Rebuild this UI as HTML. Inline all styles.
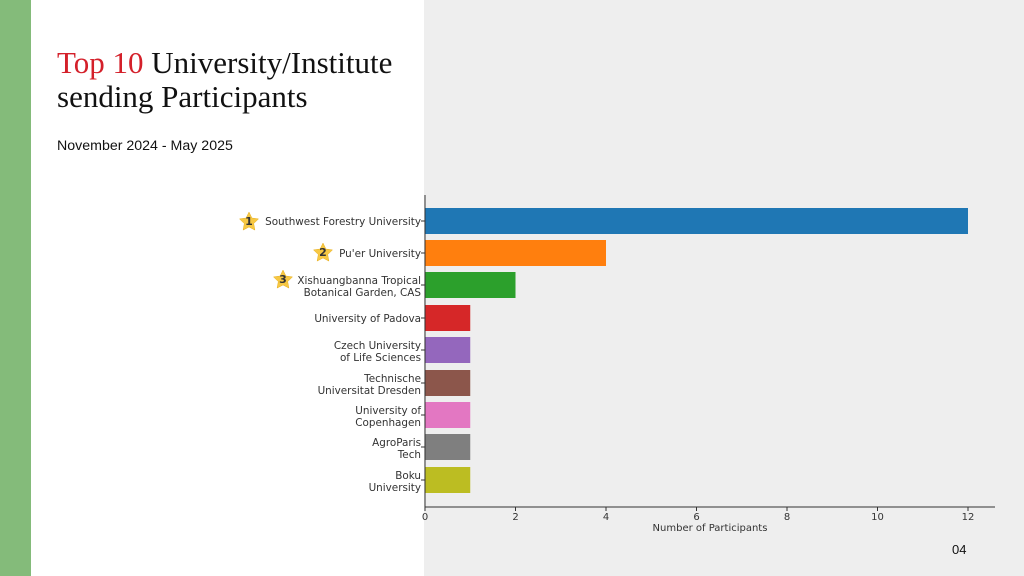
<!DOCTYPE html>
<html><head><meta charset="utf-8"><style>
html,body{margin:0;padding:0;width:1024px;height:576px;overflow:hidden;background:#fff}
</style></head><body>
<svg width="1024" height="576" xmlns="http://www.w3.org/2000/svg" style="display:block">
<rect x="0" y="0" width="1024" height="576" fill="#fff"/>
<rect x="0" y="0" width="31" height="576" fill="#84bb7a"/>
<rect x="424" y="0" width="600" height="576" fill="#eeeeee"/>
<g font-family="Liberation Serif, serif" font-size="31" fill="#111">
<text x="57" y="73"><tspan fill="#d4202a">Top 10</tspan> University/Institute</text>
<text x="57" y="107">sending Participants</text>
</g>
<text x="57" y="150" font-family="Liberation Sans, sans-serif" font-size="14.2" fill="#111">November 2024 - May 2025</text>
<text x="952" y="554" font-family="Liberation Sans, sans-serif" font-size="13" fill="#111">04</text>
<g>
<rect x="425" y="208" width="543" height="26" fill="#1f77b4"/>
<rect x="425" y="240" width="181" height="26" fill="#ff7f0e"/>
<rect x="425" y="272" width="90.5" height="26" fill="#2ca02c"/>
<rect x="425" y="305" width="45.25" height="26" fill="#d62728"/>
<rect x="425" y="337" width="45.25" height="26" fill="#9467bd"/>
<rect x="425" y="370" width="45.25" height="26" fill="#8c564b"/>
<rect x="425" y="402" width="45.25" height="26" fill="#e377c2"/>
<rect x="425" y="434" width="45.25" height="26" fill="#7f7f7f"/>
<rect x="425" y="467" width="45.25" height="26" fill="#bcbd22"/>
</g>
<g stroke="#333" stroke-width="1">
<line x1="425" y1="195" x2="425" y2="507"/>
<line x1="425" y1="507" x2="995" y2="507"/>
<line x1="425" y1="507" x2="425" y2="511"/><line x1="515.5" y1="507" x2="515.5" y2="511"/>
<line x1="606" y1="507" x2="606" y2="511"/><line x1="696.5" y1="507" x2="696.5" y2="511"/>
<line x1="787" y1="507" x2="787" y2="511"/><line x1="877.5" y1="507" x2="877.5" y2="511"/>
<line x1="968" y1="507" x2="968" y2="511"/>
<line x1="421" y1="221" x2="425" y2="221"/><line x1="421" y1="253" x2="425" y2="253"/>
<line x1="421" y1="285" x2="425" y2="285"/><line x1="421" y1="318" x2="425" y2="318"/>
<line x1="421" y1="350" x2="425" y2="350"/><line x1="421" y1="383" x2="425" y2="383"/>
<line x1="421" y1="415" x2="425" y2="415"/><line x1="421" y1="447" x2="425" y2="447"/>
<line x1="421" y1="480" x2="425" y2="480"/>
</g>
<g font-family="DejaVu Sans, sans-serif" font-size="10" fill="#333" text-anchor="middle">
<text x="425" y="520">0</text><text x="515.5" y="520">2</text><text x="606" y="520">4</text>
<text x="696.5" y="520">6</text><text x="787" y="520">8</text><text x="877.5" y="520">10</text>
<text x="968" y="520">12</text>
<text x="710" y="531">Number of Participants</text>
</g>
<g font-family="DejaVu Sans, sans-serif" font-size="10.4" fill="#333" text-anchor="end">
<text x="421" y="225">Southwest Forestry University</text>
<text x="421" y="257">Pu'er University</text>
<text x="421" y="284">Xishuangbanna Tropical</text><text x="421" y="296">Botanical Garden, CAS</text>
<text x="421" y="322">University of Padova</text>
<text x="421" y="349">Czech University</text><text x="421" y="361">of Life Sciences</text>
<text x="421" y="382">Technische</text><text x="421" y="394">Universitat Dresden</text>
<text x="421" y="414">University of</text><text x="421" y="426">Copenhagen</text>
<text x="421" y="446">AgroParis</text><text x="421" y="458">Tech</text>
<text x="421" y="479">Boku</text><text x="421" y="491">University</text>
</g>
<defs><polygon id="st" points="0,-10 2.9,-4 9.5,-3.1 4.7,1.5 5.9,8.1 0,5 -5.9,8.1 -4.7,1.5 -9.5,-3.1 -2.9,-4" fill="#f7c843" stroke="#e8b020" stroke-width="0.5"/></defs>
<use href="#st" x="249" y="222"/><use href="#st" x="323" y="253"/><use href="#st" x="283" y="280"/>
<g font-family="DejaVu Sans, sans-serif" font-size="11" font-weight="bold" fill="#333" text-anchor="middle">
<text x="249" y="225">1</text><text x="323" y="256">2</text><text x="283" y="283">3</text>
</g>
</svg>
</body></html>
